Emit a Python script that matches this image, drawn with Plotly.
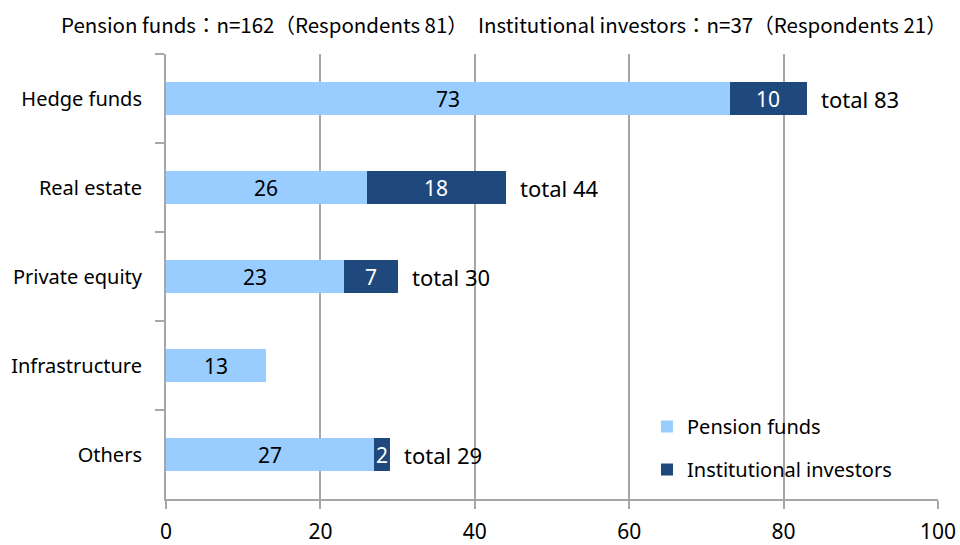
import plotly.graph_objects as go

categories = ["Hedge funds", "Real estate", "Private equity", "Infrastructure", "Others"]
pension = [73, 26, 23, 13, 27]
institutional = [10, 18, 7, None, 2]
x_ticks = [0, 20, 40, 60, 80, 100]
header = "Pension funds：n=162（Respondents 81）　Institutional investors：n=37（Respondents 21）"

LIGHT = "#99CCFF"
DARK = "#1F497D"
GRID = "#A6A6A6"
FONT = "Noto Sans"

L, R, T, B = 166, 22, 54, 46
W, H = 960, 545
PW, PH = W - L - R, H - T - B


def px_x(p):
    return (p - L) / PW


def px_y(p):
    return (H - B - p) / PH


fig = go.Figure()
fig.add_trace(go.Bar(
    y=categories, x=pension, orientation="h", name="Pension funds",
    marker=dict(color=LIGHT, line=dict(width=0)), legendgroup="a",
    hoverinfo="x+y",
))
fig.add_trace(go.Bar(
    y=categories, x=[v if v is not None else 0 for v in institutional],
    orientation="h", name="Institutional investors",
    marker=dict(color=DARK, line=dict(width=0)), legendgroup="b",
    hoverinfo="x+y",
))

annotations = []
for c, p, i in zip(categories, pension, institutional):
    annotations.append(dict(x=p / 2, y=c, text=str(p), showarrow=False,
                            font=dict(family=FONT, size=21, color="black"),
                            xanchor="center", yanchor="middle"))
    if i is not None:
        annotations.append(dict(x=p + i / 2, y=c, text=str(i), showarrow=False,
                                font=dict(family=FONT, size=21, color="white"),
                                xanchor="center", yanchor="middle"))
        annotations.append(dict(x=p + i, y=c, text=f"total {p + i}", showarrow=False,
                                font=dict(family=FONT, size=22, color="black"),
                                xanchor="left", yanchor="middle", xshift=12))

annotations.append(dict(x=px_x(504), y=1.0, xref="paper", yref="paper", yshift=30,
                        text=header, showarrow=False, xanchor="center", yanchor="middle",
                        font=dict(family="Noto Sans CJK JP", size=20.5, color="black"),
                        ))

shapes = [dict(type="rect", xref="paper", yref="paper", layer="below",
               x0=px_x(650), x1=px_x(936), y0=px_y(497), y1=px_y(403),
               fillcolor="white", line=dict(width=0))]

fig.update_layout(
    barmode="stack",
    bargap=0.62,
    width=W, height=H,
    margin=dict(l=L, r=R, t=T, b=B),
    paper_bgcolor="white", plot_bgcolor="white",
    showlegend=True,
    legend=dict(x=px_x(647), y=px_y(407), xanchor="left", yanchor="top",
                bgcolor="rgba(0,0,0,0)", borderwidth=0,
                font=dict(family=FONT, size=20, color="black"),
                tracegroupgap=14, traceorder="grouped"),
    annotations=annotations,
    shapes=shapes,
    font=dict(family=FONT, size=20, color="black"),
)
fig.update_xaxes(
    range=[0, 100], tickvals=x_ticks, showgrid=True, gridcolor=GRID, gridwidth=1.5,
    showline=True, linecolor=GRID, linewidth=2, ticks="outside", tickcolor=GRID,
    ticklen=8, tickwidth=1.5, tickfont=dict(family=FONT, size=21, color="black"),
    zeroline=False, fixedrange=True, automargin=False, ticklabelstandoff=5,
)
fig.update_yaxes(
    categoryorder="array", categoryarray=categories, autorange="reversed",
    showline=True, linecolor=GRID, linewidth=2, ticks="outside", tickson="boundaries",
    tickcolor=GRID, ticklen=9, tickwidth=1.5, showgrid=False,
    tickfont=dict(family=FONT, size=20, color="black"), ticklabelstandoff=18,
    fixedrange=True, automargin=False,
)

fig.write_html("out.html", config={"displayModeBar": False},
               post_script="document.body.style.margin='0px';document.body.style.overflow='hidden';")
